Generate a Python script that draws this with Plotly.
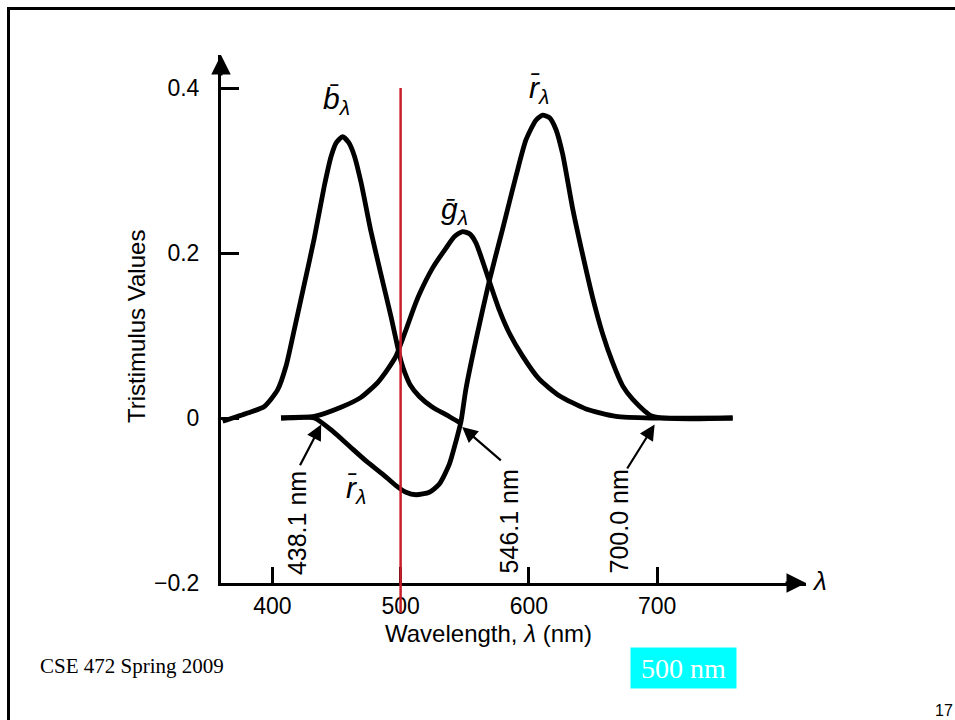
import plotly.graph_objects as go

# ---- data ----
b_nm = [361.3, 380.7, 393.8, 404.1, 410.7, 417.1, 424.9, 432.7, 440.5, 445.8, 450.0, 454.8, 459.5, 463.9,
        469.1, 476.9, 484.7, 492.5, 497.7, 500.5, 503.5, 507.5, 514.6, 524.9, 535.4, 544.4, 546.1]
b_val = [-0.004, 0.006, 0.014, 0.034, 0.063, 0.107, 0.162, 0.218, 0.281, 0.317, 0.334, 0.341, 0.334, 0.318,
         0.286, 0.226, 0.174, 0.123, 0.086, 0.068, 0.054, 0.040, 0.026, 0.013, 0.004, -0.004, -0.005]

g_nm = [406.8, 432.7, 453.5, 469.1, 482.1, 489.9, 496.4, 504.2, 510.7, 514.6, 525.0, 535.4, 542.0, 548.3,
        554.0, 558.8, 569.1, 576.9, 584.7, 595.1, 608.1, 623.7, 644.5, 667.9, 696.4, 758.8]
g_val = [0.0, 0.002, 0.013, 0.025, 0.043, 0.059, 0.075, 0.107, 0.135, 0.150, 0.182, 0.206, 0.220, 0.226,
         0.223, 0.212, 0.166, 0.131, 0.103, 0.075, 0.047, 0.027, 0.011, 0.002, 0.0, 0.0]

r_nm = [406.8, 432.7, 447.0, 460.0, 473.0, 486.0, 496.4, 504.2, 512.0, 522.4, 530.2, 538.0, 543.2,
        547.1, 550.9, 558.8, 569.1, 579.5, 589.9, 597.7, 605.5, 610.7, 616.0, 621.0, 626.3, 634.1, 641.9,
        649.7, 657.5, 665.3, 673.1, 680.8, 696.4, 758.8]
r_val = [0.0, 0.0, -0.016, -0.034, -0.052, -0.068, -0.082, -0.090, -0.093, -0.090, -0.080, -0.056, -0.028,
         -0.004, 0.035, 0.095, 0.166, 0.229, 0.293, 0.337, 0.361, 0.367, 0.364, 0.350, 0.320, 0.254, 0.198,
         0.146, 0.102, 0.067, 0.039, 0.023, 0.002, 0.0]

x_ticks = [400, 500, 600, 700]
x_tick_text = ["400", "500", "600", "700"]
y_ticks = [-0.2, 0, 0.2, 0.4]
y_tick_text = ["\u22120.2", "0", "0.2", "0.4"]

marker_nm = 500
primary_labels = ["438.1 nm", "546.1 nm", "700.0 nm"]

# ---- layout geometry ----
W, H = 955, 720
L, R, T, B = 221, 955 - 806, 55, 720 - 583
PW, PH = W - L - R, H - T - B


def px(x):
    return (x - L) / PW


def py(y):
    return (H - B - y) / PH


fig = go.Figure()
for xs, ys in [(b_nm, b_val), (g_nm, g_val), (r_nm, r_val)]:
    fig.add_trace(go.Scatter(x=xs, y=ys, mode="lines",
                             line=dict(color="black", width=4.8, shape="spline", smoothing=0.6),
                             showlegend=False, hoverinfo="skip"))

sans = "Liberation Sans, Arial, sans-serif"
serif = "Liberation Serif, Times New Roman, serif"

fig.update_layout(
    width=W, height=H, margin=dict(l=L, r=R, t=T, b=B),
    paper_bgcolor="white", plot_bgcolor="white",
    font=dict(family=sans, color="black", size=24),
    xaxis=dict(range=[360, 816], showgrid=False, zeroline=False, showline=True,
               linecolor="black", linewidth=3, ticks="inside", ticklen=16, tickwidth=2.5,
               tickcolor="black", tickvals=x_ticks, ticktext=x_tick_text,
               tickfont=dict(size=23, family=sans), ticklabelstandoff=0),
    yaxis=dict(range=[-0.2, 0.44], showgrid=False, zeroline=False, showline=True,
               linecolor="black", linewidth=3, ticks="inside", ticklen=18, tickwidth=2.5,
               tickcolor="black", tickvals=y_ticks, ticktext=y_tick_text,
               tickfont=dict(size=23, family=sans), ticklabelstandoff=14),
)

ann = []


def text_ann(x, y, text, ref="paper", **kw):
    d = dict(x=x, y=y, xref=ref if ref == "paper" else "x", yref=ref if ref == "paper" else "y",
             text=text, showarrow=False, xanchor="center", yanchor="middle")
    d.update(kw)
    ann.append(d)


# axis arrowheads
ann.append(dict(x=360, y=0.44, xref="x", yref="y", ax=0, ay=22, text="", showarrow=True,
                arrowhead=2, arrowsize=1.3, arrowwidth=3, arrowcolor="black", standoff=0))
ann.append(dict(x=816, y=-0.2, xref="x", yref="y", ax=-22, ay=0, text="", showarrow=True,
                arrowhead=2, arrowsize=1.3, arrowwidth=3, arrowcolor="black", standoff=0))
text_ann(px(819), py(581), "<i>λ</i>", font=dict(size=26, family=sans))

# curve labels
lab_font = dict(size=30, family=sans)
text_ann(449.9, 0.385, "<i>b\u0304</i><sub><i>λ</i></sub>", ref="data", font=lab_font)
text_ann(541.9, 0.252, "<i>g\u0304</i><sub><i>λ</i></sub>", ref="data", font=lab_font)
text_ann(608.1, 0.398, "<i>r\u0304</i><sub><i>λ</i></sub>", ref="data", font=lab_font)
text_ann(465.5, -0.087, "<i>r\u0304</i><sub><i>λ</i></sub>", ref="data", font=lab_font)

# primary wavelength labels (rotated) and arrows
label_pos = [(418.7, -0.127), (584.7, -0.125), (670.5, -0.125)]
tips = [(438.1, -0.008), (548.0, -0.011), (698.0, -0.008)]
tails = [(421.0, -0.059), (579.3, -0.053), (675.9, -0.063)]
for (lx, ly), t, (tx, ty), (ax_, ay_) in zip(label_pos, primary_labels, tips, tails):
    text_ann(lx, ly, t, ref="data", textangle=-90, font=dict(size=25, family=sans))
    ann.append(dict(x=tx, y=ty, xref="x", yref="y", ax=ax_, ay=ay_, axref="x", ayref="y",
                    text="", showarrow=True, arrowhead=2, arrowsize=1.4, arrowwidth=2.2,
                    arrowcolor="black", standoff=0))

# axis titles
text_ann(px(488), py(633), "Wavelength, <i>λ</i> (nm)", font=dict(size=24, family=sans))
text_ann(px(136), py(327), "Tristimulus Values", textangle=-90, font=dict(size=24, family=sans))

# slide footer
text_ann(px(38), py(666), "CSE 472 Spring 2009", xanchor="left", font=dict(size=21, family=serif))
text_ann(px(683), py(668), "500 nm", bgcolor="#00ffff", width=97, height=32, borderpad=4,
         font=dict(size=28, family=serif, color="white"))
text_ann(px(944), py(710), "17", font=dict(size=16, family=sans))
fig.update_layout(annotations=ann)

# red marker line at 500 nm and slide border
fig.add_shape(type="line", xref="x", yref="paper", x0=marker_nm, x1=marker_nm,
              y0=py(613), y1=py(88), line=dict(color="#c8202a", width=2.5))
fig.add_shape(type="line", xref="paper", yref="paper", x0=px(7), x1=px(960),
              y0=py(8.5), y1=py(8.5), line=dict(color="black", width=3))
fig.add_shape(type="line", xref="paper", yref="paper", x0=px(8.5), x1=px(8.5),
              y0=py(7), y1=py(725), line=dict(color="black", width=3))

fig.write_html("out.html")
